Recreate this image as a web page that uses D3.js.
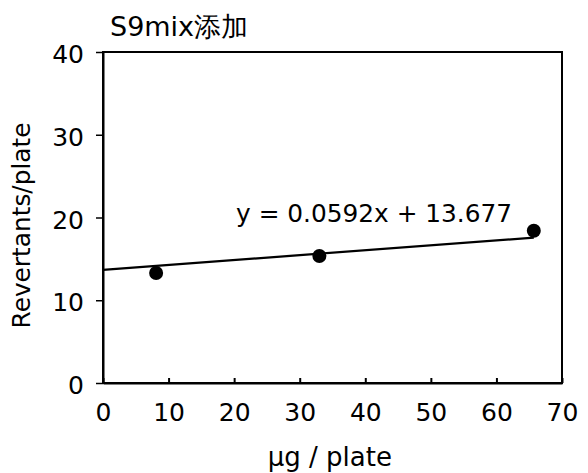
<!DOCTYPE html>
<html><head><meta charset="utf-8">
<script src="https://cdn.jsdelivr.net/npm/d3@7"></script>
<style>body{margin:0;background:#fff}svg{display:block}text{font-family:"DejaVu Sans",sans-serif;fill:#000}</style>
</head><body>
<script>
const title = "S9mix添加";
const doses = [8.1, 33, 65.7];
const revertants = [13.3, 15.35, 18.4];
const slope = 0.0592, intercept = 13.677;
const equationLabel = "y = 0.0592x + 13.677";
const xTicks = [0,10,20,30,40,50,60,70];
const yTicks = [0,10,20,30,40];
const xLabel = "µg / plate", yLabel = "Revertants/plate";

const W=588,H=473, L=103,R=562,T=52,B=383;
const svg=d3.select("body").append("svg").attr("width",W).attr("height",H);
svg.append("rect").attr("width",W).attr("height",H).attr("fill","#fff");
const x=d3.scaleLinear().domain([0,70]).range([L,R]);
const y=d3.scaleLinear().domain([0,40]).range([B,T]);

svg.append("rect").attr("x",L).attr("y",T).attr("width",R-L).attr("height",B-T)
  .attr("fill","none").attr("stroke","#000").attr("stroke-width",2);

const xa=svg.append("g").attr("transform",`translate(0,${B})`)
  .call(d3.axisBottom(x).tickValues(xTicks).tickSizeInner(-5).tickSizeOuter(0).tickPadding(20));
xa.select(".domain").attr("stroke-width",2);
xa.selectAll("line").attr("stroke-width",2);
xa.selectAll("text").attr("font-size",25).attr("font-family","DejaVu Sans");

const ya=svg.append("g").attr("transform",`translate(${L},0)`)
  .call(d3.axisLeft(y).tickValues(yTicks).tickSizeInner(7).tickSizeOuter(0).tickPadding(12));
ya.select(".domain").attr("stroke-width",2);
ya.selectAll("line").attr("stroke-width",1.5);
ya.selectAll("text").attr("font-size",25).attr("font-family","DejaVu Sans").attr("dy","0.42em");

svg.append("line").attr("x1",x(0)).attr("y1",y(intercept))
  .attr("x2",x(d3.max(doses))).attr("y2",y(intercept+slope*d3.max(doses)))
  .attr("stroke","#000").attr("stroke-width",2.2);

svg.selectAll("circle.pt").data(doses).enter().append("circle").attr("class","pt")
  .attr("cx",d=>x(d)).attr("cy",(d,i)=>y(revertants[i])).attr("r",7).attr("fill","#000");

svg.append("text").attr("x",x(20.3)).attr("y",y(19.5)).attr("font-size",24.8).text(equationLabel);

svg.append("text").attr("x",110).attr("y",36).attr("font-size",27).text(title);
svg.append("text").attr("x",x(34.6)).attr("y",466).attr("text-anchor","middle").attr("font-size",26).text(xLabel);
svg.append("text").attr("transform",`translate(30,${(T+B)/2+8}) rotate(-90)`).attr("text-anchor","middle").attr("font-size",24.8).text(yLabel);
</script>
</body></html>
